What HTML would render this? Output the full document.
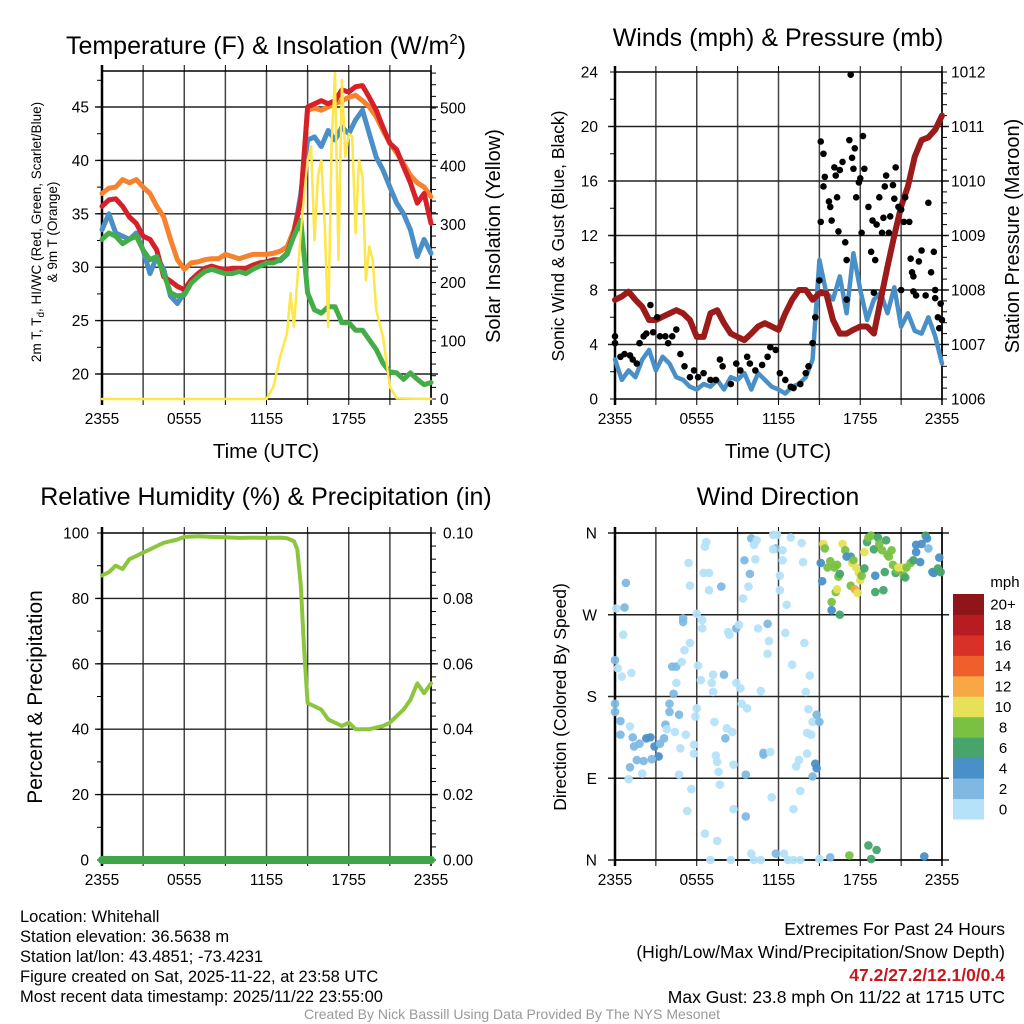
<!DOCTYPE html>
<html><head><meta charset="utf-8">
<style>
html,body{margin:0;padding:0;background:#fff;}
svg{display:block;font-family:"Liberation Sans",Arial,sans-serif;}
</style></head>
<body>
<svg id="fig" width="1024" height="1024" viewBox="0 0 1024 1024" xmlns="http://www.w3.org/2000/svg">
<rect width="1024" height="1024" fill="#fff"/>
<text x="266" y="54" font-size="25" text-anchor="middle">Temperature (F) &amp; Insolation (W/m<tspan font-size="15" dy="-10">2</tspan><tspan dy="10">)</tspan></text>
<text x="778" y="46" font-size="25" text-anchor="middle">Winds (mph) &amp; Pressure (mb)</text>
<text x="266" y="505" font-size="25" text-anchor="middle">Relative Humidity (%) &amp; Precipitation (in)</text>
<text x="778" y="505" font-size="25" text-anchor="middle">Wind Direction</text>
<text x="266" y="458" font-size="20.5" text-anchor="middle">Time (UTC)</text>
<text x="778" y="458" font-size="20.5" text-anchor="middle">Time (UTC)</text>
<text transform="translate(41,232) rotate(-90)" font-size="13.5" text-anchor="middle">2m T, T<tspan font-size="10" dy="3">d</tspan><tspan dy="-3">, HI/WC (Red, Green, Scarlet/Blue)</tspan></text>
<text transform="translate(57,232) rotate(-90)" font-size="13.5" text-anchor="middle">&amp; 9m T (Orange)</text>
<text transform="translate(500,236) rotate(-90)" font-size="20" text-anchor="middle">Solar Insolation (Yellow)</text>
<text transform="translate(564,236) rotate(-90)" font-size="17.5" text-anchor="middle">Sonic Wind &amp; Gust (Blue, Black)</text>
<text transform="translate(1019,236) rotate(-90)" font-size="20" text-anchor="middle">Station Pressure (Maroon)</text>
<text transform="translate(42,697) rotate(-90)" font-size="21" text-anchor="middle">Percent &amp; Precipitation</text>
<text transform="translate(566,697) rotate(-90)" font-size="17.5" text-anchor="middle">Direction (Colored By Speed)</text>
<g font-size="16.5">
<text x="20" y="922">Location: Whitehall</text>
<text x="20" y="942">Station elevation: 36.5638 m</text>
<text x="20" y="962">Station lat/lon: 43.4851; -73.4231</text>
<text x="20" y="982">Figure created on Sat, 2025-11-22, at 23:58 UTC</text>
<text x="20" y="1002">Most recent data timestamp: 2025/11/22 23:55:00</text>
</g>
<g font-size="17.5" text-anchor="end">
<text x="1005" y="935">Extremes For Past 24 Hours</text>
<text x="1005" y="958">(High/Low/Max Wind/Precipitation/Snow Depth)</text>
<text x="1005" y="981" fill="#c8181e" font-weight="bold">47.2/27.2/12.1/0/0.4</text>
<text x="1005" y="1003">Max Gust: 23.8 mph On 11/22 at 1715 UTC</text>
</g>
<text x="512" y="1019" font-size="14" fill="#999" text-anchor="middle">Created By Nick Bassill Using Data Provided By The NYS Mesonet</text>
</svg>
<script>
// ---- data ----
const hours = [0,0.5,1,1.5,2,2.5,3,3.5,4,4.5,5,5.5,6,6.5,7,7.5,8,8.5,9,9.5,10,10.5,11,11.5,12,12.5,13,13.5,14,14.5,15,15.5,16,16.5,17,17.5,18,18.5,19,19.5,20,20.5,21,21.5,22,22.5,23,23.5,24];
const tempRed = [35.7,36.3,36.4,35.7,34.7,34.1,32.9,32.6,31.6,29.1,28.7,28.2,27.9,28.8,29.4,29.9,30.1,29.9,29.8,29.9,29.9,29.9,30.2,30.4,30.5,30.7,30.7,31.3,33.2,36.3,45,45.3,45.6,45.3,45.6,46.6,46.4,46.9,47.0,45.9,44.7,43.1,41.6,41,39.4,37.9,36,36.9,34.1];
const temp9m = [36.9,37.4,37.5,38.2,37.9,38.2,37.5,36.9,35.7,34.7,32.6,30.7,29.8,30.4,30.5,30.7,30.8,30.8,31.2,31,30.8,31,31.2,31.2,31.2,31.3,31.5,31.9,33.5,36.3,44.7,44.9,44.7,45,45.3,45.6,45.9,46.1,45.6,45,44.1,42.8,41.6,40.7,39.7,38.6,37.9,37.5,36.6];
const tempHiWc = [33.5,35,33.2,32.9,32.6,33.2,31.6,29.4,31,29.8,27.3,26.6,27.6,28.8,29.2,29.6,29.8,29.6,29.4,29.6,29.6,29.6,30.0,30.2,30.4,30.6,30.6,31.2,33.0,36.9,41.9,42.2,41.3,42.8,41.9,43.1,42.5,43.8,44.7,42.5,40.3,39.1,37.5,36,35,33.5,31,32.6,31.3];
const tempDew = [32.6,33.2,32.9,32.2,32.6,32.9,31.6,30.7,31,29.4,27.6,27.3,27.4,28.5,29.1,29.6,29.8,29.6,29.4,29.4,29.6,29.4,29.8,30.1,30.4,30.4,30.7,31.3,32.9,34.4,27.6,26,25.7,26.3,26.3,24.8,24.8,24.1,24.1,23.2,22.3,21,20.2,20.1,19.5,20.1,19.5,19,19.2];
const solarHours = [0,11.5,12,12.5,13,13.5,13.75,14,14.25,14.5,14.75,15,15.25,15.5,15.75,16,16.25,16.5,16.75,17,17.25,17.5,17.75,18,18.25,18.5,18.75,19,19.25,19.5,19.75,20,20.5,21,21.5,24];
const solarValues = [0,0,0,21,73,113,182,124,204,285,353,411,434,273,382,411,296,124,439,560,239,548,416,456,451,285,411,382,204,262,239,153,107,21,1,0];
const windSpeed = [2.9,1.4,2.1,1.6,2.9,3.6,2.1,3.1,2.6,1.6,1.4,0.9,0.7,1.1,0.9,1.4,0.7,1.6,1.4,1.9,0.7,1.9,1.4,0.9,0.7,0.4,0.9,1.1,1.6,2.9,10.2,7.8,7.3,9,6.3,10.7,8,5.8,7.3,7.8,6.3,8.2,5.3,6.3,5,4.8,6,4.6,2.6];
const pressure = [1007.82,1007.88,1007.97,1007.82,1007.69,1007.45,1007.45,1007.51,1007.57,1007.63,1007.57,1007.45,1007.14,1007.14,1007.57,1007.63,1007.39,1007.2,1007.14,1007.08,1007.2,1007.33,1007.39,1007.33,1007.27,1007.57,1007.82,1008.0,1008.0,1007.82,1007.94,1007.94,1007.45,1007.2,1007.2,1007.27,1007.33,1007.33,1007.2,1007.82,1008.43,1009.0,1009.53,1009.9,1010.45,1010.75,1010.8,1010.94,1011.2];
const gustHours = [0,0,0.4,0.7,1.1,1.3,1.6,1.8,2.1,2.3,2.6,2.8,3.1,3.3,3.7,3.9,4.2,4.5,4.8,5.1,5.5,5.8,6.1,6.5,7,7.4,7.7,7.9,8.5,8.9,9.2,9.7,9.9,10.3,10.8,11.2,11.4,11.8,12.1,12.5,12.9,13.1,13.6,14,14.2,14.5,14.7,15,15.1,15.1,15.3,15.4,15.3,15.7,15.8,15.9,16.1,16.2,16.3,16.4,16.5,16.7,16.9,17,17.2,17.3,17.4,17.5,17.6,17.7,17.9,18,18.2,18.3,18.1,18.6,18.8,18.9,19.1,19.2,19.4,19.6,19.7,19.8,19.9,20.1,20.2,20.4,20.5,20.6,20.8,21,21.2,21.3,21.6,21.7,21.8,21.9,22.1,22.3,22.5,22.8,23,23.2,23.4,23.5,23.7,23.8,23.9,24,23.5,21.9,19,17,21];
const gustValues = [4.6,4.1,3.1,3.3,3.2,2.9,2.6,4.1,4.6,4.8,6.9,4.9,6,4.6,4.6,4.1,4.6,5.1,3.3,2.4,1.6,2.1,1.6,1.9,1.4,1.4,2.9,2.4,1.1,2.6,2.1,3.1,2.6,2.1,2.5,3.1,3.8,3.6,1.9,1.4,0.9,0.8,1.1,1.9,2.4,4.1,6,8.7,13,18.9,18,16.3,15.6,14.5,14.1,13.1,17,16.4,14.8,12.3,16.8,17.4,11.5,10.2,19,23.8,17.7,16.9,18.4,14.8,15.9,16.2,19.3,16.9,12.2,14.1,10.8,13.1,10.2,12.8,14.8,12.2,13.3,15.6,16.4,12.2,13.4,15.7,14.7,17,14.1,13.9,13,14.8,13,10.3,9.3,9,7.6,10.1,10.9,7.6,14.4,9.3,10.8,8,6,5.2,7,5.8,7.4,7.9,7.8,7.3,8];
const dirHours = [0,0.2,0.5,1.2,0.6,0.1,0.7,0.8,0,0,0.4,1.1,0.4,1.3,1.4,1.8,2.3,2.6,2.9,3.3,3.2,2.7,2.1,1.6,1.1,1,2,3.6,3.7,3.8,4.4,4.8,4.7,5.2,4,4,4.7,4.3,4.5,4.2,4.5,4.9,5.1,5.5,5,5,5.5,5.4,6,6.4,6.4,6.1,6.3,6,5.9,5.8,5.8,5.6,5.3,6.6,7.5,7,8.5,6.5,6.9,6.6,6.7,6.9,7.8,7.2,7.1,7.2,8,7.3,7.4,7.5,7.6,7.7,8.1,8.2,8.6,8.7,8.3,8.4,8.9,9.1,8.9,9.2,9.3,9.7,8.7,9.6,9.6,9.4,9.8,9.9,9.5,10.3,10,10.2,10.4,10.5,11.2,11.3,11.2,10.7,10.9,10.9,11.4,11.5,11.6,11.9,11.8,12.3,11.6,12.3,12.1,12.1,12.6,12.5,13,13.8,12.9,13.7,13.9,14.3,14,14.2,14.5,14.8,15,14.1,14.4,14.1,13.5,13.3,14.7,14.8,14.5,13.6,13.1,10,11.8,12.4,12.7,13.1,13.6,10.7,10.2,15,15.8,17.2,18.6,19.2,18.8,22.7,15.1,15.2,15.3,15.4,15.6,15.8,16.1,16.3,16.4,16.5,16.2,16.3,15.9,15.9,16.5,16.7,16.9,17,17.3,17.4,17.5,17.3,17.6,17.7,17.9,18,18.1,18.3,18.3,17.8,18.5,18.6,18.8,19,19.1,19.1,19.3,19.4,19.6,19.7,19.8,19.9,20,20.1,20.3,20.4,20.6,20.7,20.8,21.1,21.2,21.3,21.4,21.7,21.9,22.1,22.1,22.4,22.5,22.8,22.9,23,23.3,23.4,23.7,23.9,23.8];
const dirDegrees = [220,211,202,206,248,277,278,305,172,163,153,147,138,135,125,128,134,135,125,128,114,111,109,110,102,89,95,134,149,144,141,123,94,138,172,163,160,183,195,213,213,218,231,239,266,262,302,327,271,264,255,214,198,167,158,127,117,78,54,29,21,0,0,316,316,345,350,297,301,204,195,185,204,152,115,108,97,83,134,145,141,105,251,248,255,259,195,189,172,167,56,94,48,288,301,315,330,331,354,347,352,255,260,241,227,186,116,118,119,69,358,358,343,341,342,330,313,297,281,250,215,328,355,349,239,203,185,166,152,160,152,140,138,117,110,103,106,101,92,76,56,7,7,7,0,0,0,0,0,1,3,5,16,11,1,4,327,307,348,343,322,329,322,325,312,315,295,298,284,275,270,348,341,334,334,327,330,302,298,322,316,308,313,321,339,294,350,355,357,342,313,295,355,348,341,297,317,352,336,334,341,325,316,319,322,322,313,311,322,327,330,339,347,328,348,357,354,343,317,316,321,317,333];
const dirSpeeds = [3,1,1,1,1,1,3,3,3,3,3,1,3,3,3,3,5,5,5,3,5,3,3,3,3,1,1,3,3,1,1,1,1,1,3,3,3,3,1,3,3,1,1,1,3,3,1,1,1,1,1,1,1,1,1,1,1,1,1,1,1,1,1,1,1,1,1,1,3,1,1,1,3,1,1,1,1,1,3,1,1,1,1,1,3,1,1,1,1,1,1,3,3,1,1,3,3,1,3,1,1,1,3,1,1,1,3,3,1,1,1,1,3,1,1,1,1,1,1,1,1,1,1,1,1,1,1,1,1,3,3,1,1,1,1,1,5,5,3,1,1,1,3,1,1,1,1,1,1,1,3,9,7,7,7,5,5,5,11,9,9,9,9,9,9,7,9,11,9,5,7,11,9,5,5,11,9,9,13,11,11,11,9,7,11,11,7,9,9,7,5,7,7,9,9,7,7,7,9,9,9,9,7,9,11,11,9,7,9,9,7,5,5,5,5,7,5,3,5,5,7,7,5,5,3];
const rhHours = [0,0.5,1,1.5,2,2.5,3,3.5,4,4.5,5,5.5,6,7,8,9,10,11,12,13,13.5,14,14.25,14.5,14.75,15,15.5,16,16.5,17,17.5,18,18.5,19,19.5,20,20.5,21,21.5,22,22.5,23,23.5,24];
const rhValues = [87,88,90,89,92,93,94,95,96,97,97.5,98,98.8,99,98.8,98.7,98.5,98.6,98.5,98.6,98.4,97.5,95,84,64,48,47,46,43,42,41,42,40,40,40,40.5,41,42,44,46,49,54,51,54];
const precipHours = [0,24];
const precipValues = [0,0];
const tempTicks = [20,25,30,35,40,45];
const solarTicks = [0,100,200,300,400,500];
const windTicks = [0,4,8,12,16,20,24];
const presTicks = [1006,1007,1008,1009,1010,1011,1012];
const rhTicks = [0,20,40,60,80,100];
const precipTicks = ["0.00","0.02","0.04","0.06","0.08","0.10"];
const dirTickValues = [0,90,180,270,360];
const dirTickLabels = ["N","E","S","W","N"];
const timeTickHours = [0,6,12,18,24];
const timeTickLabels = ["2355","0555","1155","1755","2355"];
const speedBinLabels = ["0","2","4","6","8","10","12","14","16","18","20+"];
const speedBinColors = ["#b5e2f8","#7fb9e3","#4a90c8","#47a56b","#7ac143","#e6e157","#f7a745","#ef5f2b","#d93127","#b81b22","#8f1519"];

// ---- helpers ----
const NS = "http://www.w3.org/2000/svg";
const svg = document.getElementById("fig");
function mk(tag, attrs, parent){ const e=document.createElementNS(NS,tag); for(const k in attrs) e.setAttribute(k,attrs[k]); (parent||svg).appendChild(e); return e; }
function lin(d0,d1,r0,r1){ return v => r0 + (v-d0)*(r1-r0)/(d1-d0); }
function pathFrom(xs,ys,fx,fy){ let d=""; for(let i=0;i<xs.length;i++){ d+=(i?"L":"M")+fx(xs[i]).toFixed(1)+","+fy(ys[i]).toFixed(1); } return d; }

const panels = {
  p1:{x0:102,x1:431,y0:71,y1:399},
  p2:{x0:615,x1:942,y0:72,y1:399},
  p3:{x0:102,x1:431,y0:533,y1:860},
  p4:{x0:615,x1:942,y0:533,y1:860}
};

function frame(p, name, hLines){
  const g = mk("g",{});
  
  
  const fx = lin(0,24,p.x0,p.x1);
  for(let h=3; h<24; h+=3){
    const l = mk("line",{x1:fx(h),x2:fx(h),y1:p.y0,y2:p.y1,stroke:"#444","stroke-width":1.5},g);
    
    
    const t1 = mk("line",{x1:fx(h),x2:fx(h),y1:p.y1,y2:p.y1+6,stroke:"#000","stroke-width":1},g);
    
    
    const t2 = mk("line",{x1:fx(h),x2:fx(h),y1:p.y0-6,y2:p.y0,stroke:"#000","stroke-width":1},g);
    
    
  }
  hLines.forEach(y=>{
    const l = mk("line",{x1:p.x0-7,x2:p.x1+7,y1:y,y2:y,stroke:"#222","stroke-width":1.4},g);
    
    
  });
  const r = mk("rect",{x:p.x0,y:p.y0,width:p.x1-p.x0,height:p.y1-p.y0,fill:"none",stroke:"#000","stroke-width":1.5},g);
  
  
  const la = mk("line",{x1:p.x0,x2:p.x0,y1:p.y0-6,y2:p.y1+6,stroke:"#000","stroke-width":2.5},g);
  
  
  const ra = mk("line",{x1:p.x1,x2:p.x1,y1:p.y0-6,y2:p.y1+6,stroke:"#000","stroke-width":1.5},g);
  
  
  timeTickHours.forEach((h,i)=>{
    const t = mk("text",{x:fx(h),y:p.y1+25,"font-size":15.5,"text-anchor":"middle"},g);
    t.textContent = timeTickLabels[i];
    
    
  });
  return fx;
}
function yLabels(name, vals, labels, fy, x, anchor){
  vals.forEach((v,i)=>{
    const t = mk("text",{x:x,y:fy(v)+5.5,"font-size":15.5,"text-anchor":anchor});
    t.textContent = labels[i];
    
    
  });
}
function minorTicks(name, p, fy, lo, hi, step, side){
  for(let v=lo; v<=hi+1e-9; v+=step){
    const y=fy(v); if(y<p.y0-1||y>p.y1+1) continue;
    const x = side==="L"?p.x0:p.x1, d = side==="L"?-5:5;
    const l = mk("line",{x1:x,x2:x+d,y1:y,y2:y,stroke:"#000","stroke-width":1});
    
    
  }
}
function series(name, d, color, w){
  const e = mk("path",{d:d,fill:"none",stroke:color,"stroke-width":w,"stroke-linejoin":"round","stroke-linecap":"round"});
  
  
  return e;
}

// ---- panel 1: temperature ----
{
  const p = panels.p1;
  const fyT = lin(20,45,374,107);
  const fyS = lin(0,500,399,108);
  const fx = frame(p,"temp",tempTicks.map(fyT));
  minorTicks("temp-left",p,fyT,17.5,47.5,2.5,"L");
  minorTicks("temp-right",p,fyS,0,560,20,"R");
  yLabels("temp-y",tempTicks,tempTicks.map(String),fyT,89,"end");
  yLabels("solar-y",solarTicks,solarTicks.map(String),fyS,440,"start");
  series("solar-line",pathFrom(solarHours,solarValues,fx,fyS),"#fde74c",2.5);
  series("temp-9m-line",pathFrom(hours,temp9m,fx,fyT),"#f5822f",5);
  series("temp-hiwc-line",pathFrom(hours,tempHiWc,fx,fyT),"#4a8fc8",5);
  series("temp-2m-line",pathFrom(hours,tempRed,fx,fyT),"#d6202a",5);
  series("dewpoint-line",pathFrom(hours,tempDew,fx,fyT),"#43ad47",5);
  series("solar-line-top",pathFrom(solarHours,solarValues,fx,fyS),"#fde74c",2.2);
}

// ---- panel 2: winds ----
{
  const p = panels.p2;
  const fyW = lin(0,24,399,72);
  const fyP = lin(1006,1012,399,72);
  const fx = frame(p,"winds",windTicks.slice(1,6).map(fyW));
  minorTicks("wind-left",p,fyW,0,24,2,"L");
  minorTicks("pres-right",p,fyP,1006,1012,0.2,"R");
  yLabels("wind-y",windTicks,windTicks.map(String),fyW,598,"end");
  yLabels("pres-y",presTicks,presTicks.map(String),fyP,951,"start");
  series("wind-speed-line",pathFrom(hours,windSpeed,fx,fyW),"#4a90c8",4.5);
  series("pressure-line",pathFrom(hours,pressure,fx,fyP),"#9b1b1b",6);
  gustHours.forEach((h,i)=>{
    const c = mk("circle",{cx:fx(h),cy:fyW(gustValues[i]),r:3.3,fill:"#000"});
    
    
  });
}

// ---- panel 3: RH ----
{
  const p = panels.p3;
  const fyR = lin(0,100,860,533);
  const fyPr = lin(0,0.1,860,533);
  const fx = frame(p,"rh",rhTicks.slice(1,5).map(fyR));
  minorTicks("rh-left",p,fyR,0,100,10,"L");
  minorTicks("precip-right",p,fyR,0,100,4,"R");
  yLabels("rh-y",rhTicks,rhTicks.map(String),fyR,89,"end");
  yLabels("precip-y",rhTicks,precipTicks,fyR,443,"start");
  series("rh-line",pathFrom(rhHours,rhValues,fx,fyR),"#8cc63f",4);
  series("precip-line",pathFrom(precipHours,precipValues,fx,fyPr),"#3fa548",8);
}

// ---- panel 4: wind direction ----
{
  const p = panels.p4;
  const fyD = lin(0,360,860,533);
  const fx = frame(p,"wdir",[90,180,270].map(fyD).concat([fyD(0),fyD(360)]));
  yLabels("wdir-y",dirTickValues,dirTickLabels,fyD,597,"end");
  dirHours.forEach((h,i)=>{
    const bin = Math.min(10,Math.floor(dirSpeeds[i]/2));
    const c = mk("circle",{cx:fx(h),cy:fyD(dirDegrees[i]),r:4.3,fill:speedBinColors[bin],"fill-opacity":0.95});
    
    
  });
  const cb = mk("g",{});
  
  
  const bh = (819-594)/11;
  speedBinColors.forEach((col,i)=>{
    const y = 819 - (i+1)*bh;
    const r = mk("rect",{x:953,y:y,width:31,height:bh+0.5,fill:col},cb);
    
    
    const t = mk("text",{x:1003,y:y+bh/2+5.5,"font-size":15,"text-anchor":"middle"},cb);
    t.textContent = speedBinLabels[i];
    
    
  });
  const u = mk("text",{x:1005,y:587,"font-size":15,"text-anchor":"middle"},cb);
  u.textContent = "mph";
  
  
}
</script>
</body></html>
